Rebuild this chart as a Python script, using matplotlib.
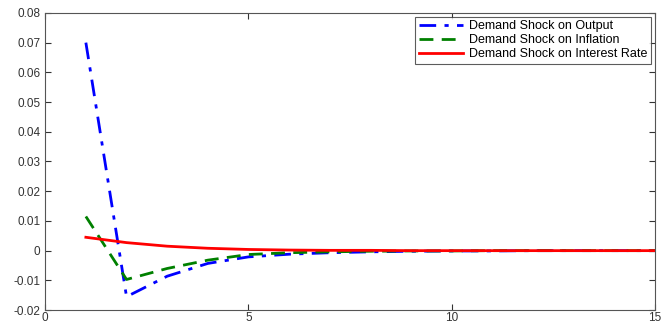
import numpy as np
import matplotlib
matplotlib.use("Agg")
import matplotlib.pyplot as plt

plt.rcParams['font.family'] = ['Liberation Sans', 'DejaVu Sans']
plt.rcParams['axes.unicode_minus'] = False

# impulse responses, periods 1..15
periods = np.arange(1, 16)
output = [0.070, -0.0155, -0.0086, -0.0043, -0.0021, -0.0012, -0.0007, -0.0004,
          -0.0002, -0.0001, -0.0001, 0.0, 0.0, 0.0, 0.0]
inflation = [0.0115, -0.0097, -0.0060, -0.0032, -0.0013, -0.0007, -0.0004, -0.0002,
             -0.0001, -0.0001, 0.0, 0.0, 0.0, 0.0, 0.0]
interest = [0.0045, 0.0027, 0.0015, 0.0008, 0.0004, 0.0002, 0.0001, 0.0001,
            0.0, 0.0, 0.0, 0.0, 0.0, 0.0, 0.0]
labels = ['Demand Shock on Output', 'Demand Shock on Inflation',
          'Demand Shock on Interest Rate']

fig = plt.figure(figsize=(6.65, 3.23), dpi=100)
ax = fig.add_axes([0.068, 0.040, 0.917, 0.920])

ax.plot(periods, output, color='blue', lw=2, linestyle=(0, (6, 3, 1.5, 3)), label=labels[0])
ax.plot(periods, inflation, color='green', lw=2, linestyle=(0, (5, 3)), label=labels[1])
ax.plot(periods, interest, color='red', lw=2, label=labels[2])

ax.set_xlim(0, 15)
ax.set_ylim(-0.02, 0.08)
ax.set_xticks([0, 5, 10, 15])
ax.set_yticks(np.arange(-0.02, 0.081, 0.01))
ax.set_yticklabels(['-0.02', '-0.01', '0', '0.01', '0.02', '0.03', '0.04',
                    '0.05', '0.06', '0.07', '0.08'])
ax.tick_params(direction='in', top=True, right=True, length=4, labelsize=8.5,
               colors='#333333', width=0.8)
ax.tick_params(axis='x', pad=1.5)
for s in ax.spines.values():
    s.set_color('#555555')
    s.set_linewidth(0.8)

leg = ax.legend(loc='upper right', fontsize=9, frameon=True, fancybox=False,
                borderpad=0.3, labelspacing=0.15, handlelength=3.5,
                handletextpad=0.5, borderaxespad=0.3)
leg.get_frame().set_edgecolor('#333333')
leg.get_frame().set_linewidth(0.8)

fig.savefig('out.png', dpi=100)
